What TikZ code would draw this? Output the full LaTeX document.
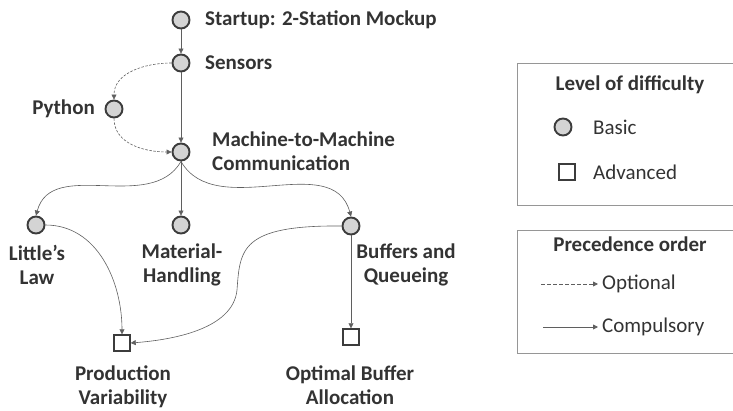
\documentclass[tikz,border=0pt]{standalone}
\usepackage{fontspec}
\setmainfont{Carlito}
\usetikzlibrary{arrows.meta}
\definecolor{nodefill}{RGB}{212,212,212}
\definecolor{nodedraw}{RGB}{60,60,60}
\definecolor{edgecol}{RGB}{95,95,95}
\definecolor{boxcol}{RGB}{150,150,150}
\tikzset{
  basic/.style={circle,draw=nodedraw,fill=nodefill,line width=1.9pt,minimum size=17pt,inner sep=0pt},
  advanced/.style={rectangle,draw=nodedraw,fill=white,line width=1.9pt,minimum size=15.5pt,inner sep=0pt},
  lbl/.style={font=\bfseries\fontsize{21}{24.5}\selectfont,text=black!80,inner sep=0pt,align=center},
  leg/.style={font=\fontsize{21}{24}\selectfont,text=black!80,inner sep=0pt,anchor=west},
  comp/.style={draw=edgecol,line width=0.6pt,-{Triangle[length=5pt,width=5pt]}},
  opt/.style={comp,dash pattern=on 2.5pt off 1.5pt},
  legbox/.style={draw=boxcol,line width=0.8pt}
}
\begin{document}
\begin{tikzpicture}[x=1pt,y=-1pt]
\useasboundingbox (0,0) rectangle (733,411);
% nodes
\node[basic] (st) at (181,20) {};
\node[basic] (se) at (181,63) {};
\node[basic] (py) at (114,109) {};
\node[basic] (mm) at (181,152) {};
\node[basic] (li) at (36,225) {};
\node[basic] (ma) at (181,225) {};
\node[basic] (bu) at (351,226) {};
\node[advanced] (pr) at (122,343) {};
\node[advanced] (op) at (351,337) {};
% labels
\node[lbl,anchor=west] (tst) at (205,20) {Startup: 2-Station Mockup};
\node[lbl,anchor=west] (tse) at (205,63) {Sensors};
\node[lbl,anchor=east] (tpy) at (95,109) {Python};
\node[lbl,anchor=west,align=left] (tmm) at (212,151) {Machine-to-Machine\\Communication};
\node[lbl] (tli) at (37,265) {Little's\\Law};
\node[lbl] (tma) at (182,265) {Material-\\Handling};
\node[lbl] (tbu) at (406,265) {Buffers and\\Queueing};
\node[lbl] (tpr) at (123,387) {Production\\Variability};
\node[lbl] (top) at (350,385) {Optimal Buffer\\Allocation};
% edges
\draw[comp] (st) -- (se);
\draw[comp] (se) -- (mm);
\draw[opt] (se.west) to[out=180,in=90] (py.north);
\draw[opt] (py.south) to[out=-90,in=180] (mm.west);
\draw[comp] (mm.south) to[out=-120,in=75] (li.north);
\draw[comp] (mm) -- (ma);
\draw[comp] (mm.south) to[out=-60,in=105] (bu.north);
\draw[comp] (li.east) to[out=0,in=90] (pr.north);
\draw[comp] (bu.west) .. controls (240,225) and (240,250) .. (237,290) .. controls (233,330) and (170,340) .. (pr.east);
\draw[comp] (bu) -- (op);
% legend 1
\draw[legbox] (517,63) -- (740,63) -- (740,205) -- (517,205) -- cycle;
\node[lbl] (lh1) at (630,85) {Level of difficulty};
\node[basic] (lc) at (563,127) {};
\node[leg] (lb) at (593,127) {Basic};
\node[advanced] (ls) at (567,172) {};
\node[leg] (la) at (593,172) {Advanced};
% legend 2
\draw[legbox] (517,230) -- (740,230) -- (740,353) -- (517,353) -- cycle;
\node[lbl] (lh2) at (630,244) {Precedence order};
\coordinate (o1) at (541,284);
\coordinate (o2) at (598,284);
\coordinate (c1) at (543,327);
\coordinate (c2) at (598,327);
\draw[opt,line width=0.8pt,dash pattern=on 4pt off 2pt] (o1) -- (o2);
\draw[comp,line width=0.8pt] (c1) -- (c2);
\node[leg] (lo) at (602,284) {Optional};
\node[leg] (lcp) at (602,327) {Compulsory};
\end{tikzpicture}
\end{document}
